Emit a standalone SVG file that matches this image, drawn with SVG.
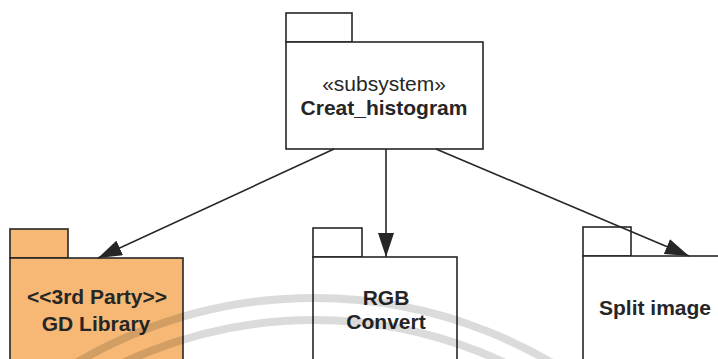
<svg xmlns="http://www.w3.org/2000/svg" width="718" height="359" viewBox="0 0 718 359">
  <style>
    .pkg { fill: #ffffff; stroke: #262626; stroke-width: 1.6; }
    .third { fill: #f6b874; }
    .lbl { font-family: "Liberation Sans", Arial, sans-serif; font-size: 21px; fill: #262626; text-anchor: middle; }
    .b { font-weight: bold; }
    .edge { stroke: #262626; stroke-width: 1.6; fill: none; marker-end: url(#head); }
    .mark { fill: none; stroke: #000; stroke-opacity: 0.14; stroke-width: 8; }
  </style>
  <defs>
    <marker id="head" viewBox="0 0 24 16" refX="24" refY="8" markerWidth="24" markerHeight="16" markerUnits="userSpaceOnUse" orient="auto">
      <path d="M0,0 L24,8 L0,16 Z" fill="#262626"/>
    </marker>
  </defs>
  <rect width="718" height="359" fill="#ffffff"/>

  <!-- subsystem package -->
  <g id="creat-histogram">
    <rect class="pkg" x="286" y="13" width="66" height="29"/>
    <rect class="pkg" x="286" y="42" width="197" height="107"/>
    <text class="lbl" x="384" y="91">«subsystem»</text>
    <text class="lbl b" x="384" y="115">Creat_histogram</text>
  </g>

  <!-- third party library -->
  <g id="gd-library">
    <rect class="pkg third" x="10" y="229" width="58" height="29"/>
    <rect class="pkg third" x="10" y="258" width="173" height="110"/>
    <text class="lbl b" x="97" y="304">&lt;&lt;3rd Party&gt;&gt;</text>
    <text class="lbl b" x="96" y="331">GD Library</text>
  </g>

  <g id="rgb-convert">
    <rect class="pkg" x="313" y="228" width="49" height="29"/>
    <rect class="pkg" x="313" y="257" width="144" height="110"/>
    <text class="lbl b" x="386" y="305">RGB</text>
    <text class="lbl b" x="386" y="329">Convert</text>
  </g>

  <g id="split-image">
    <rect class="pkg" x="583" y="227" width="48" height="29"/>
    <rect class="pkg" x="583" y="256" width="150" height="111"/>
    <text class="lbl b" x="655" y="315">Split image</text>
  </g>

  <g id="connectors">
    <line class="edge" x1="334" y1="149" x2="98" y2="258"/>
    <line class="edge" x1="386" y1="149" x2="386" y2="257"/>
    <line class="edge" x1="436" y1="149" x2="689" y2="256"/>
  </g>

  <!-- faint background arcs -->
  <g id="arcs">
    <circle class="mark" cx="314" cy="766" r="468"/>
    <circle class="mark" cx="314" cy="766" r="446"/>
  </g>
</svg>
